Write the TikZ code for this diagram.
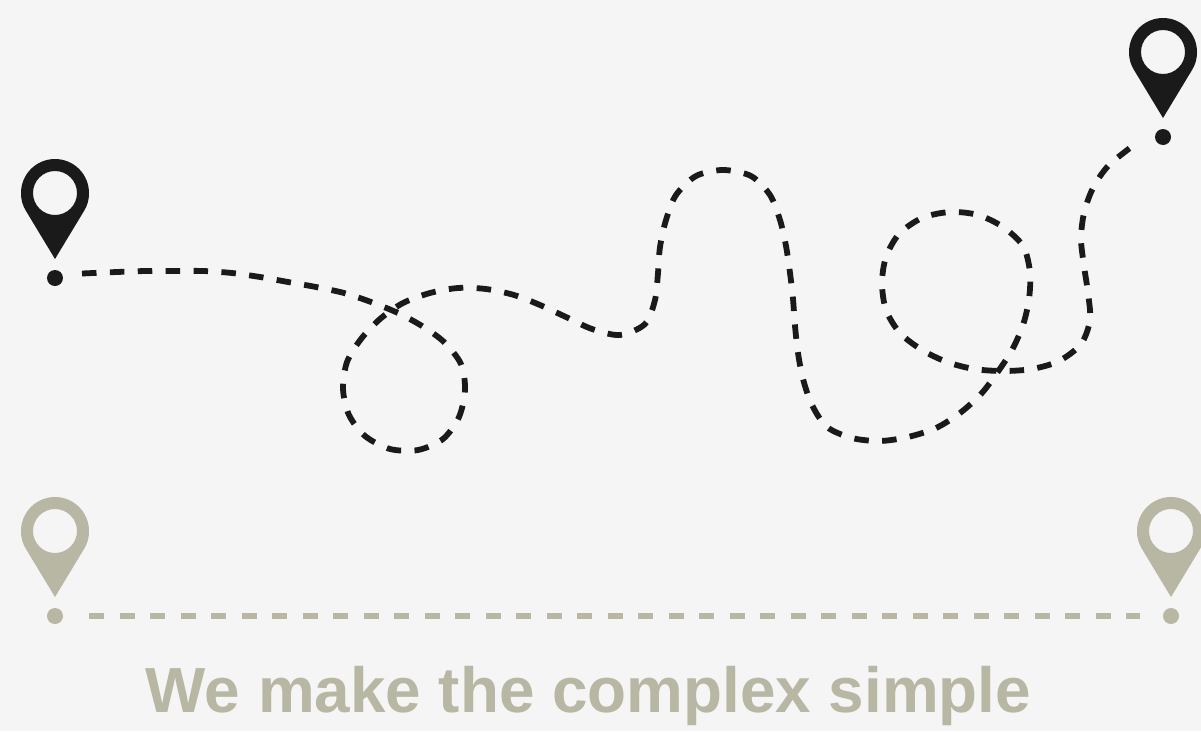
\documentclass[tikz,border=0pt]{standalone}
\usepackage{fontspec}
\setmainfont{Liberation Sans}
\usepackage{tikz}
\usetikzlibrary{positioning}
\definecolor{pagebg}{HTML}{F5F5F5}
\definecolor{routeink}{HTML}{1A1A1A}
\definecolor{planink}{HTML}{B8B7A3}
\tikzset{
  stopdot/.style={circle,fill=#1,inner sep=0pt,minimum size=16pt},
  routeline/.style={line width=5.8pt,draw=routeink,dash pattern=on 14.5pt off 13.4pt},
  planline/.style={line width=5.4pt,draw=planink,dash pattern=on 15pt off 15.5pt},
  mappin/.pic={
    \fill[even odd rule,pic actions] (-34,0) arc[start angle=180,end angle=360,radius=34]
      .. controls (34,8) and (32,13) .. (29,18) -- (0,66) -- (-29,18)
      .. controls (-32,13) and (-34,8) .. (-34,0) -- cycle
      (22,0) arc[start angle=0,end angle=360,radius=22] -- cycle;
  }
}
\begin{document}
\begin{tikzpicture}[x=1pt,y=-1pt]
\fill[pagebg] (0,0) rectangle (1201,731);
\useasboundingbox (0,0) rectangle (1201,731);
% winding route
\pic[fill=routeink] at (55,193) {mappin};
\pic[fill=routeink] at (1163,52) {mappin};
\node[stopdot=routeink] (routestart) at (55,278) {};
\node[stopdot=routeink] (routeend) at (1163,137) {};
\draw[routeline] plot[smooth,tension=0.5] coordinates {
  (82,273.5)(117,272)(146,271)(174,271)(203,271)(232,273)(260,277)(288,282)(316,287)
  (344,293)(371,302)(398,313)(422,326)(444,342)(461,364)(465,390)(459,417)(443,439)
  (418,450)(390,449)(365,436)(349,415)(343,389)(347,362)(361,339)(380,319)(403,303)
  (430,293)(458,288)(486,289)(514,295)(540,305)(566,317)(592,329)(620,335)(645,324)
  (655,300)(658,273)(660,247)(666,220)(676,195)(696,176)(723,170)(751,176)(770,195)
  (780,220)(786,246)(790,273)(793,299)(795,326)(798,353)(803,379)(812,405)(827,427)
  (852,438)(880,441)(908,437)(936,428)(960,413)(981,394)(997,373)(1012,350)(1023,325)
  (1029,299)(1030,272)(1023,246)(1003,227)(978,215)(950,212)(922,218)(899,234)(886,257)
  (882,283)(886,310)(900,333)(922,350)(947,362)(974,369)(1003,371)(1032,369)(1059,361)
  (1081,344)(1090,320)(1088,293)(1084,266)(1081,239)(1084,213)(1093,188)(1109,165)
  (1138,142)};
% straight route
\pic[fill=planink] at (55,531) {mappin};
\pic[fill=planink] at (1171,531) {mappin};
\node[stopdot=planink] (planstart) at (55,616) {};
\node[stopdot=planink] (planend) at (1171,616) {};
\draw[planline,shorten <=26pt,shorten >=23pt] (planstart) -- (planend);
\node[text=planink,font=\bfseries\fontsize{63.8}{64}\selectfont,anchor=base] (slogan) at (588.5,712) {We make the complex simple};
\end{tikzpicture}
\end{document}
